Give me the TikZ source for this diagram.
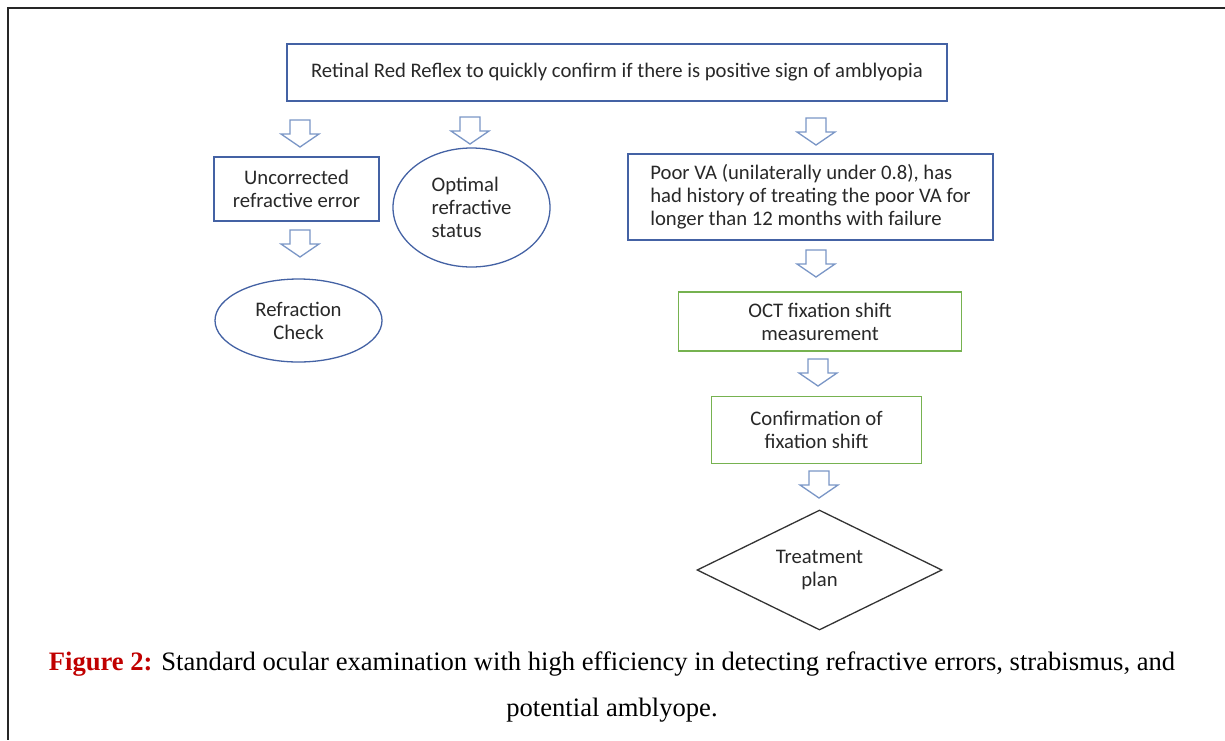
\documentclass[tikz,border=0pt]{standalone}
\usepackage{fontspec}
\setmainfont{Carlito}
\newfontfamily\capfont{Liberation Serif}
\usetikzlibrary{shapes.geometric}

\definecolor{boxblue}{RGB}{68,98,164}
\definecolor{boxgreen}{RGB}{118,178,80}
\definecolor{arrowblue}{RGB}{122,150,198}
\definecolor{txtgray}{RGB}{40,40,40}
\definecolor{figred}{RGB}{192,0,0}

\tikzset{
  stage/.style={draw=boxblue,line width=1.3pt,text=txtgray,inner sep=0pt,align=center,
    font=\fontsize{20.7}{23}\selectfont},
  octstage/.style={stage,draw=boxgreen},
  roundstage/.style={stage,ellipse},
  blockarrow/.style={draw=arrowblue,line width=1.3pt,fill=white,line join=miter},
}

\begin{document}
\begin{tikzpicture}[x=1pt,y=-1pt]
  \useasboundingbox (0,0) rectangle (1225,740);
  % page frame
  \draw[line width=2.2pt,black!85] (1225,8) -- (8,8) -- (8,740);

  \node[stage,minimum width=660pt,minimum height=57pt] (reflex) at (617,72.5)
    {Retinal Red Reflex to quickly confirm if there is positive sign of amblyopia};

  % left branch
  \node[stage,minimum width=165pt,minimum height=64pt] (uncorr) at (296.5,189)
    {Uncorrected\\refractive error};
  \node[roundstage,minimum width=167pt,minimum height=83pt] (refcheck) at (298.5,320.5)
    {Refraction\\Check};
  \node[roundstage,align=left,minimum width=157pt,minimum height=119pt] (optimal) at (471.5,207.5)
    {Optimal\\refractive\\status};

  % right branch
  \node[stage,align=left,minimum width=365pt,minimum height=86pt] (poorva) at (810.5,197)
    {Poor VA (unilaterally under 0.8), has\\had history of treating the poor VA for\\longer than 12 months with failure};
  \node[octstage,minimum width=283pt,minimum height=59pt] (octshift) at (820,321.5)
    {OCT fixation shift\\measurement};
  \node[octstage,minimum width=210pt,minimum height=67pt] (confirm) at (816.5,430)
    {Confirmation of\\fixation shift};
  \node[stage,diamond,draw=black!80,aspect=2,minimum width=245pt,minimum height=120pt] (plan) at (819.5,570)
    {Treatment\\plan};

  % hollow down arrows
  \foreach \x/\y in {300/120,470/117,816/118,300/230,816/250,818/359,819/471} {
      \draw[blockarrow,shift={(\x,\y)}] (-10,0) -- (10,0) -- (10,14) -- (19,14)
        -- (0,27) -- (-19,14) -- (-10,14) -- cycle;
  }

  \node[align=center,font=\capfont\fontsize{26.6}{46}\selectfont] (caption) at (612,687)
    {{\color{figred}\bfseries Figure 2:} Standard ocular examination with high efficiency in detecting refractive errors, strabismus, and\\potential amblyope.};
\end{tikzpicture}
\end{document}
